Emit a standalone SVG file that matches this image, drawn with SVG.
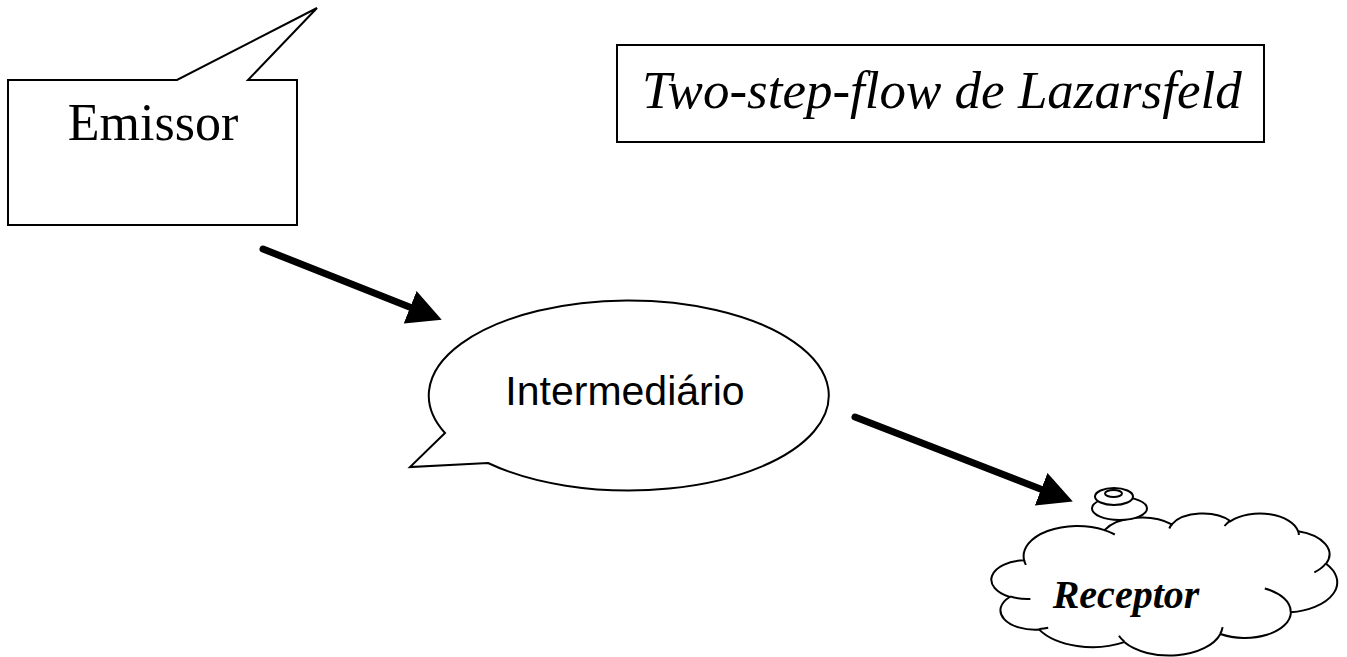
<svg xmlns="http://www.w3.org/2000/svg" width="1347" height="657" viewBox="0 0 1347 657">
<style>
.shape{fill:#fff;stroke:#000;stroke-width:2;stroke-linejoin:miter}
.crease{fill:none;stroke:#000;stroke-width:2}
.serif{font-family:"Liberation Serif","Times New Roman",serif;fill:#000}
.sans{font-family:"Liberation Sans",Arial,sans-serif;fill:#000}
.conn{fill:none;stroke:#000;stroke-width:7;stroke-linecap:round}
</style>
<defs>
<marker id="head" viewBox="0 -18 36 36" markerWidth="36" markerHeight="36" refX="2" refY="0" orient="auto" markerUnits="userSpaceOnUse">
<path d="M0,-17.5 L34,0 L0,17.5 Z" fill="#000"/>
</marker>
</defs>
<rect width="1347" height="657" fill="#fff"/>
<g id="emissor">
<path class="shape" d="M8,80 L177,80 L317,8 L248,80 L297,80 L297,225 L8,225 Z"/>
<text class="serif" x="153" y="140" font-size="52" text-anchor="middle">Emissor</text>
</g>
<g id="titulo">
<rect class="shape" x="617" y="45" width="647" height="97"/>
<text class="serif" x="642" y="108" font-size="53" font-style="italic">Two-step-flow de Lazarsfeld</text>
</g>
<g id="intermediario">
<path class="shape" d="M445,433 L410,467 L488,463 A200,95 0 1 0 445,433 Z"/>
<text class="sans" x="625" y="405" font-size="41" text-anchor="middle">Intermediário</text>
</g>
<g id="receptor">
<path class="shape" d="M1024.1,560.2 A53.77,30.21 0 0 1 1104.5,530.1 A42.47,23.89 0 0 1 1171.8,524.3 A34.76,19.54 0 0 1 1230.6,521.2 A38.68,21.68 0 0 1 1298.1,531.3 A42.47,23.91 0 0 1 1326.0,563.8 A53.95,30.31 0 0 1 1290.9,612.3 A46.07,25.86 0 0 1 1220.4,634.0 A53.77,30.29 0 0 1 1124.2,642.1 A61.47,34.65 0 0 1 1039.2,629.6 A34.72,19.45 0 0 1 1009.8,597.0 A34.60,19.54 0 0 1 1024.1,560.2 Z"/>
<path class="crease" d="M1030.4,599.0 A34.60,19.54 0 0 1 1010.2,596.4 M1048.2,627.7 A34.72,19.45 0 0 1 1039.3,629.0 M1124.2,641.5 A53.77,30.29 0 0 1 1118.9,635.8 M1222.6,627.2 A53.77,30.29 0 0 1 1220.4,633.5 M1264.8,588.5 A46.07,25.86 0 0 1 1290.7,611.9 M1325.8,563.5 A42.47,23.91 0 0 1 1314.3,572.3 M1298.2,530.8 A38.68,21.68 0 0 1 1298.8,535.0 M1224.5,526.0 A38.68,21.68 0 0 1 1230.5,520.7 M1169.3,528.5 A34.76,19.54 0 0 1 1172.2,524.0 M1104.5,530.1 A53.77,30.21 0 0 1 1114.8,534.5 M1025.9,564.9 A53.77,30.21 0 0 1 1024.1,560.2"/>
<ellipse class="shape" cx="1119.5" cy="508.5" rx="27.5" ry="11.5"/>
<ellipse class="shape" cx="1114" cy="496.5" rx="19" ry="8.5"/>
<ellipse class="shape" cx="1113.5" cy="493.5" rx="8.5" ry="3.5"/>
<text class="serif" x="1126" y="608" font-size="40" font-weight="bold" font-style="italic" text-anchor="middle">Receptor</text>
</g>
<g id="connectors">
<line class="conn" x1="263" y1="249" x2="412" y2="308" marker-end="url(#head)"/>
<line class="conn" x1="855" y1="417" x2="1043" y2="490" marker-end="url(#head)"/>
</g>
</svg>
